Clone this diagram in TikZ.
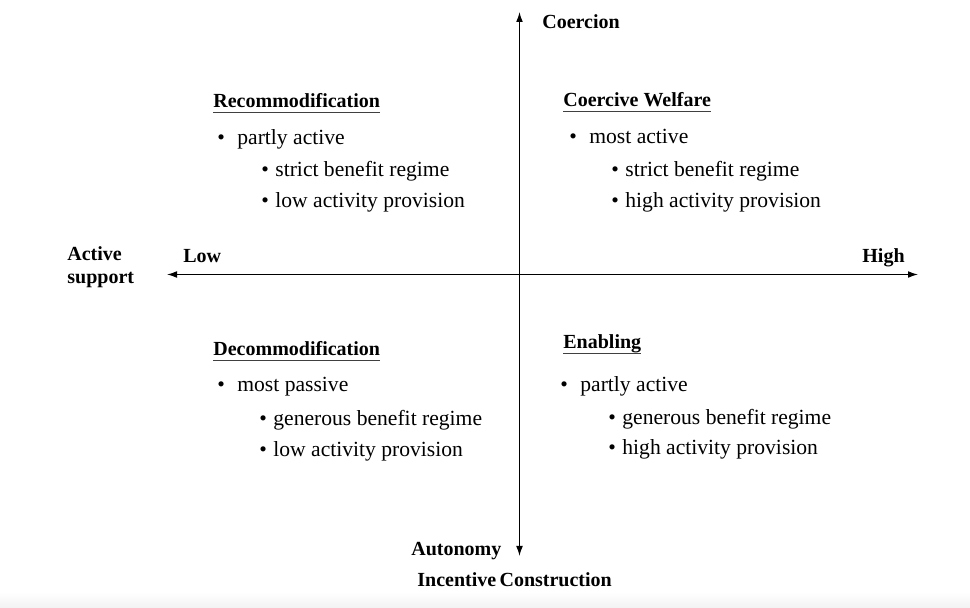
\documentclass[tikz,border=0pt]{standalone}
\usepackage{fontspec}
\setmainfont{Liberation Serif}
\usetikzlibrary{arrows.meta}

% underlined quadrant heading
\newcommand{\ulhead}[1]{\setbox0\hbox{#1}\rlap{\color{black!75}\rule[-2.5pt]{\wd0}{0.7pt}}\box0}
\newcommand{\bul}{\makebox[10pt][l]{\textbullet}}
\newcommand{\subbul}{\makebox[7pt][l]{\textbullet}}

\begin{document}
\begin{tikzpicture}[
  x=0.5pt, y=-0.5pt,
  axis/.style={{Latex[length=5pt,width=3.4pt]}-{Latex[length=5pt,width=3.4pt]}, line width=0.6pt},
  lbl/.style={anchor=base west, inner sep=0pt, font=\bfseries\fontsize{10}{11.5}\selectfont},
  head/.style={lbl},
  item/.style={anchor=base west, inner sep=0pt, font=\fontsize{10.8}{13}\selectfont}
]
\useasboundingbox (0,0) rectangle (970,608);
\shade[top color=white, bottom color=black!5] (0,592) rectangle (970,608);

% Axes
\coordinate (top) at (519.5,12);
\coordinate (bot) at (519.5,556);
\coordinate (lft) at (167,274.5);
\coordinate (rgt) at (918,274.5);
\draw[axis] (bot) -- (top);
\draw[axis] (lft) -- (rgt);

% Axis labels
\node[lbl] (coer) at (542,29) {Coercion};
\node[lbl] (low) at (183,263) {Low};
\node[lbl] (high) at (862,263) {High};
\node[lbl, anchor=west, align=left] (act) at (67,267) {Active\\support};
\node[lbl] (auto) at (411,556) {Autonomy};
\node[lbl] (inc) at (417,587) {Incentive\,Construction};

% Upper left
\node[head] (rec) at (213,108) {\ulhead{Recommodification}};
\node[item] (rec1) at (217,145) {\bul partly active};
\node[item] (rec2) at (261,177) {\subbul strict benefit regime};
\node[item] (rec3) at (261,208) {\subbul low activity provision};

% Upper right
\node[head] (cw) at (563,107) {\ulhead{Coercive Welfare}};
\node[item] (cw1) at (569,144) {\bul most active};
\node[item] (cw2) at (611,177) {\subbul strict benefit regime};
\node[item] (cw3) at (611,208) {\subbul high activity provision};

% Lower left
\node[head] (dec) at (213,356) {\ulhead{Decommodification}};
\node[item] (dec1) at (217,392) {\bul most passive};
\node[item] (dec2) at (259,426) {\subbul generous benefit regime};
\node[item] (dec3) at (259,457) {\subbul low activity provision};

% Lower right
\node[head] (en) at (563,349) {\ulhead{Enabling}};
\node[item] (en1) at (560,392) {\bul partly active};
\node[item] (en2) at (608,425) {\subbul generous benefit regime};
\node[item] (en3) at (608,455) {\subbul high activity provision};

\end{tikzpicture}
\end{document}
